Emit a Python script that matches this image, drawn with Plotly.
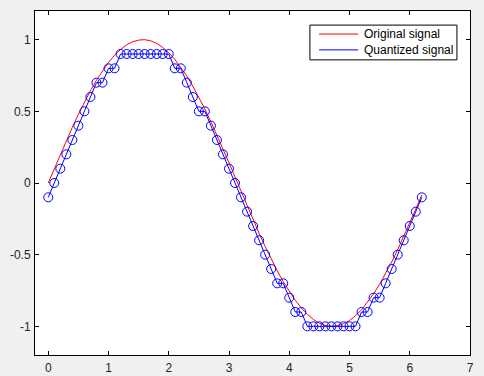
import plotly.graph_objects as go

x_vals = [round(i * 0.1, 1) for i in range(63)]

original = [0.000, 0.100, 0.199, 0.296, 0.389, 0.479, 0.565, 0.644, 0.717, 0.783,
            0.841, 0.891, 0.932, 0.964, 0.985, 0.997, 1.000, 0.992, 0.974, 0.946,
            0.909, 0.863, 0.808, 0.746, 0.675, 0.598, 0.516, 0.427, 0.335, 0.239,
            0.141, 0.042, -0.058, -0.158, -0.256, -0.351, -0.443, -0.530, -0.612, -0.688,
            -0.757, -0.818, -0.872, -0.916, -0.952, -0.978, -0.994, -1.000, -0.996, -0.982,
            -0.959, -0.926, -0.884, -0.832, -0.773, -0.706, -0.631, -0.551, -0.465, -0.374,
            -0.279, -0.182, -0.083]

quantized = [-0.1, 0.0, 0.1, 0.2, 0.3, 0.4, 0.5, 0.6, 0.7, 0.7,
             0.8, 0.8, 0.9, 0.9, 0.9, 0.9, 0.9, 0.9, 0.9, 0.9,
             0.9, 0.8, 0.8, 0.7, 0.6, 0.5, 0.5, 0.4, 0.3, 0.2,
             0.1, 0.0, -0.1, -0.2, -0.3, -0.4, -0.5, -0.6, -0.7, -0.7,
             -0.8, -0.9, -0.9, -1.0, -1.0, -1.0, -1.0, -1.0, -1.0, -1.0,
             -1.0, -1.0, -0.9, -0.9, -0.8, -0.8, -0.7, -0.6, -0.5, -0.4,
             -0.3, -0.2, -0.1]

x_ticks = [0, 1, 2, 3, 4, 5, 6, 7]
y_ticks = [-1, -0.5, 0, 0.5, 1]
y_tick_labels = ["-1", "-0.5", "0", "0.5", "1"]

series_names = ["Original signal", "Quantized signal"]
series_colors = ["#ff0000", "#0000ff"]

fig = go.Figure()
fig.add_trace(go.Scatter(x=x_vals, y=original, mode="lines", name=series_names[0],
                         showlegend=False, line=dict(color=series_colors[0], width=1)))
fig.add_trace(go.Scatter(x=x_vals, y=quantized, mode="lines+markers", name=series_names[1],
                         showlegend=False, line=dict(color=series_colors[1], width=1),
                         marker=dict(symbol="circle-open", size=9,
                                     line=dict(color=series_colors[1], width=1))))

axis_common = dict(showline=True, linecolor="black", linewidth=1, mirror="ticks",
                   ticks="inside", ticklen=4, tickcolor="black", showgrid=False,
                   zeroline=False, automargin=False,
                   tickfont=dict(family="Liberation Sans, Arial", size=12, color="#262626"))

# manual legend box (paper coordinates of the plot area)
shapes = [dict(type="rect", xref="paper", yref="paper", x0=0.632, x1=0.970, y0=0.858, y1=0.959,
               line=dict(color="black", width=1), fillcolor="white", layer="above")]
annotations = []
legend_rows_y = [0.933, 0.887]
for name, color, ly in zip(series_names, series_colors, legend_rows_y):
    shapes.append(dict(type="line", xref="paper", yref="paper", x0=0.653, x1=0.743, y0=ly, y1=ly,
                       line=dict(color=color, width=1), layer="above"))
    annotations.append(dict(text=name, xref="paper", yref="paper", x=0.752, y=ly,
                            xanchor="left", yanchor="middle", showarrow=False,
                            font=dict(family="Liberation Sans, Arial", size=12, color="black")))

fig.update_layout(
    width=484, height=376,
    margin=dict(l=35, r=14, t=11, b=21, autoexpand=False),
    paper_bgcolor="#f0f0f0", plot_bgcolor="white",
    xaxis=dict(range=[-0.22, 7], tickvals=x_ticks, ticklabelstandoff=2, **axis_common),
    yaxis=dict(range=[-1.2, 1.2], tickvals=y_ticks, ticktext=y_tick_labels,
               ticklabelstandoff=1, **axis_common),
    shapes=shapes, annotations=annotations,
    showlegend=False,
)

fig.write_html("out.html", config={"displayModeBar": False},
               post_script="document.body.style.margin='0';document.body.style.background='#f0f0f0';")
